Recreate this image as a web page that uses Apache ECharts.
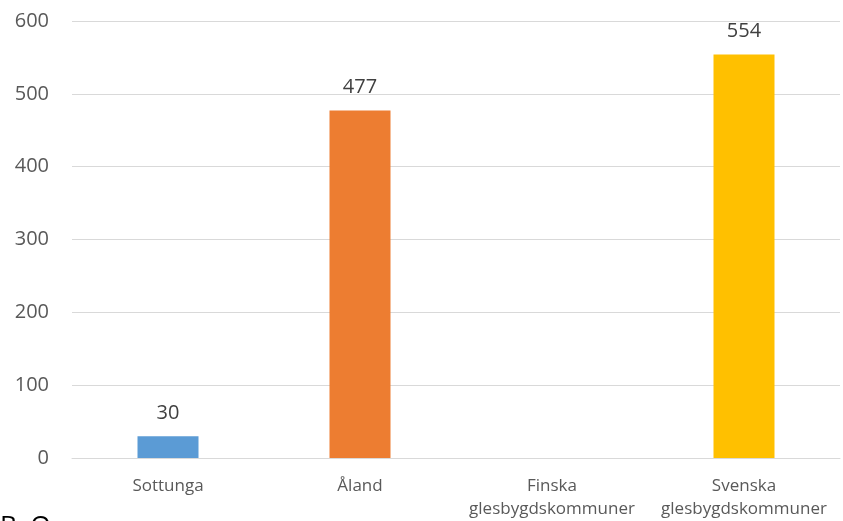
<!DOCTYPE html>
<html>
<head>
<meta charset="utf-8">
<script src="https://cdn.jsdelivr.net/npm/echarts@6/dist/echarts.min.js"></script>
<style>
  html, body { margin: 0; padding: 0; background: #fff; }
  #chart { width: 843px; height: 521px; }
</style>
</head>
<body>
<div id="chart"></div>
<script>
var categories = ["Sottunga", "Åland", "Finska\nglesbygdskommuner", "Svenska\nglesbygdskommuner"];
var values = [30, 477, null, 554];
var barColors = ["#5B9BD5", "#ED7D31", "#A5A5A5", "#FFC000"];
var yTicks = { min: 0, max: 600, interval: 100 };

function myChart() {
    var c = echarts.init(document.getElementById("chart"));
    var option = {
        backgroundColor: "#ffffff",
        animation: false,
        grid: { left: 72, right: 3, top: 21, bottom: 63 },
        xAxis: {
            type: "category",
            data: categories,
            axisTick: { show: false },
            axisLine: { lineStyle: { color: "#d9d9d9", width: 1 } },
            axisLabel: {
                color: "#595959",
                fontFamily: "Open Sans",
                fontSize: 17,
                lineHeight: 23,
                margin: 17,
                interval: 0
            }
        },
        yAxis: {
            type: "value",
            min: yTicks.min,
            max: yTicks.max,
            interval: yTicks.interval,
            axisLine: { show: false },
            axisTick: { show: false },
            splitLine: { lineStyle: { color: "#d9d9d9", width: 1 } },
            axisLabel: {
                color: "#595959",
                fontFamily: "Open Sans",
                fontSize: 20,
                margin: 23
            }
        },
        series: [{
            type: "bar",
            barWidth: 61,
            data: values.map(function (v, i) {
                return { value: v, itemStyle: { color: barColors[i] } };
            }),
            label: {
                show: true,
                position: "top",
                distance: 13,
                color: "#404040",
                fontFamily: "Open Sans",
                fontSize: 20
            }
        }],
        graphic: [{
            type: "text",
            left: 0,
            top: 514,
            style: {
                text: "B. O",
                fill: "#000",
                font: "26px 'Open Sans'"
            }
        }]
    };
    c.setOption(option);
    window.addEventListener("resize", function () {
        c.resize();
    });
}
myChart();
</script>
</body>
</html>
